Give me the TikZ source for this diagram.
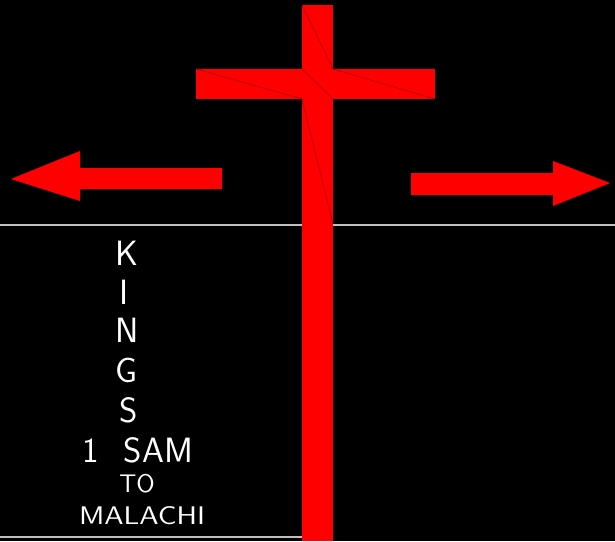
\documentclass[tikz,border=0pt]{standalone}
\usepackage{fontspec}

\tikzset{
	redpart/.style={fill=red, draw=none},
	seam/.style={draw=red!60!black, line width=0.3pt},
	rule/.style={draw=white!75!black, line width=0.8pt},
	biglabel/.style={text=white, inner sep=0pt, font=\sffamily\fontsize{20}{20}\selectfont},
	smalllabel/.style={text=white, inner sep=0pt, font=\sffamily\fontsize{14.5}{14.5}\selectfont}
}

\begin{document}
\begin{tikzpicture}[x=0.02cm, y=-0.02cm]
	\fill[black] (0,0) rectangle (615,541);
	\useasboundingbox (0,0) rectangle (615,541);
	% rules
	\coordinate (r1a) at (0,225);
	\coordinate (r1b) at (615,225);
	\coordinate (r2a) at (0,537);
	\coordinate (r2b) at (333,537);
	\draw[rule] (r1a) -- (r1b);
	\draw[rule] (r2a) -- (r2b);
	% cross
	\coordinate (ctl) at (302,5);
	\coordinate (ctr) at (333,5);
	\coordinate (cbl) at (302,541);
	\coordinate (cbr) at (333,541);
	\coordinate (al) at (196,69);
	\coordinate (ar) at (435,69);
	\coordinate (bl) at (196,99);
	\coordinate (br) at (435,99);
	\coordinate (m1) at (302,69);
	\coordinate (m2) at (333,69);
	\coordinate (m3) at (302,99);
	\coordinate (m4) at (333,99);
	\coordinate (m5) at (333,224);
	\begin{scope}
		\fill[redpart] (ctl) rectangle (cbr);
		\fill[redpart] (al) rectangle (br);
		\draw[seam] (ctl) -- (m2);
		\draw[seam] (al) -- (m3);
		\draw[seam] (m1) -- (m4);
		\draw[seam] (m2) -- (br);
		\draw[seam] (m3) -- (m5);
	\end{scope}
	% arrows
	\fill[redpart] (222,168) -- (80,168) -- (80,151) -- (11,179) -- (80,201) -- (80,189) -- (222,189) -- cycle;
	\fill[redpart] (411,173) -- (553,173) -- (553,161) -- (610,183) -- (553,206) -- (553,195) -- (411,195) -- cycle;
	% text
	\node[biglabel] (k) at (127,253) {K};
	\node[biglabel] (i) at (124,292) {I};
	\node[biglabel] (n) at (127,330) {N};
	\node[biglabel] (g) at (127,370) {G};
	\node[biglabel] (s) at (129,410) {S};
	\node[biglabel] (sam) at (138,450) {1\hspace{0.7em}SAM};
	\node[smalllabel] (to) at (137,484) {TO};
	\node[smalllabel, xscale=1.17] (malachi) at (142,516) {MALACHI};
\end{tikzpicture}
\end{document}
